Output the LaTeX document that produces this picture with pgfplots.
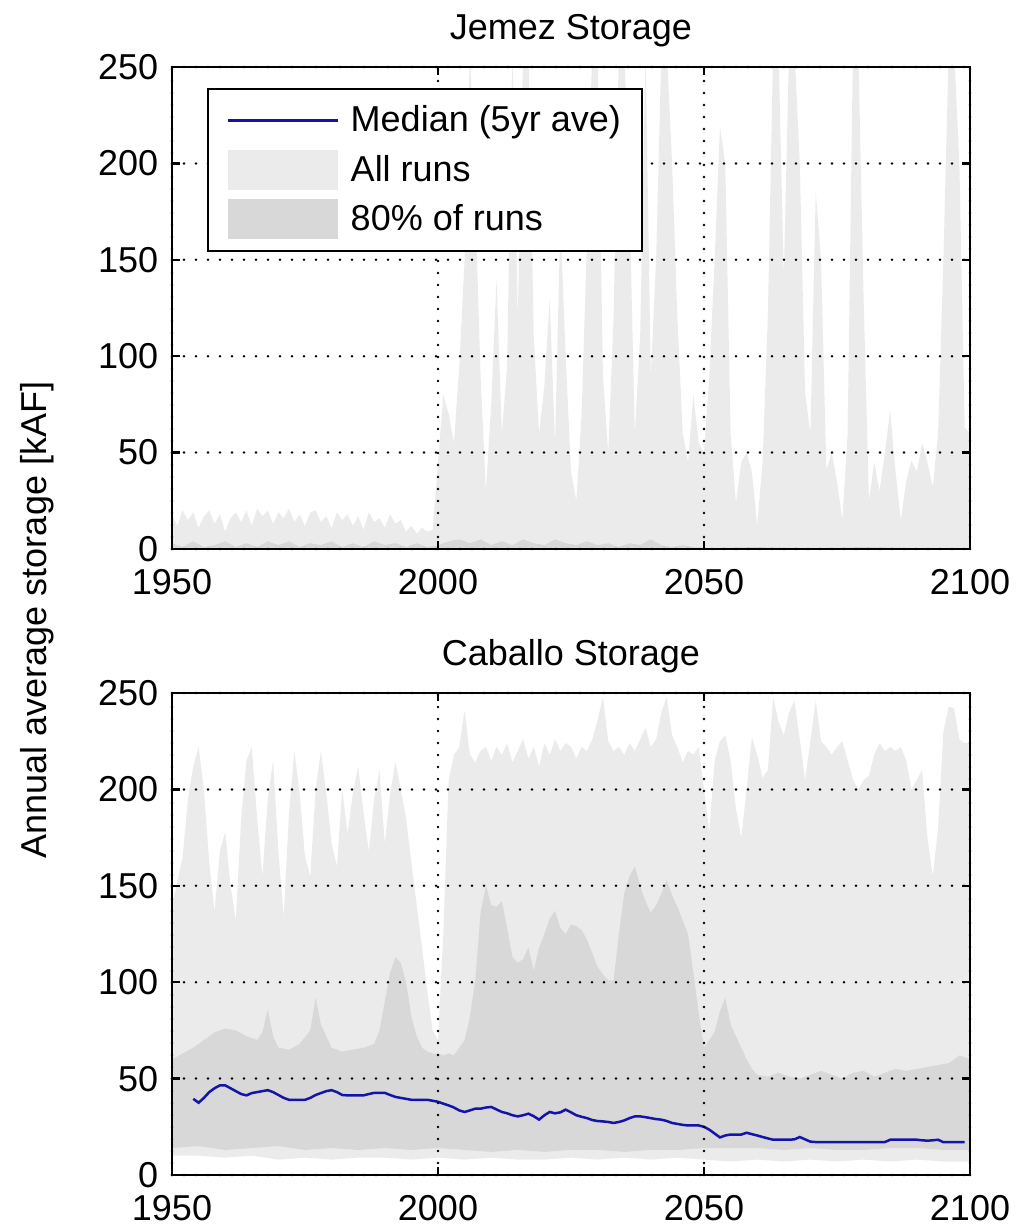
\documentclass[border=0pt]{standalone}
\usepackage{fontspec}
\setmainfont{Liberation Sans}
\usepackage{pgfplots}
\pgfplotsset{compat=1.18}
\usepgfplotslibrary{fillbetween}

\definecolor{allruns}{RGB}{235,235,235}
\definecolor{pctband}{RGB}{216,216,216}
\definecolor{medblue}{RGB}{20,20,170}

\newcommand{\lab}{\fontsize{14.4}{17}\selectfont}

\pgfplotsset{
  stor/.style={
    scale only axis, width=319.2pt, height=192.8pt,
    xmin=1950, xmax=2100, ymin=0, ymax=250,
    xtick={1950,2000,2050,2100}, ytick={0,50,100,150,200,250},
    grid=major,
    grid style={black, line width=1.1pt, line cap=round, dash pattern=on 0pt off 4.8pt},
    axis on top,
    tick align=inside, major tick length=3.2pt,
    axis line style={line width=0.9pt},
    every tick/.style={black, line width=0.9pt},
    /pgf/number format/assume math mode=true,
    /pgf/number format/1000 sep={},
    tick label style={font=\lab},
    title style={font=\lab, yshift=-1.5pt},
    xticklabel style={inner xsep=0pt, yshift=-4.5pt},
    yticklabel style={xshift=-2pt},
  }
}

\begin{document}
\begin{tikzpicture}

% Jemez
\begin{axis}[stor, at={(0pt,0pt)}, anchor=south west, title={Jemez Storage},
  legend style={at={(axis description cs:0.044,0.956)}, anchor=north west,
    draw=black, line width=0.9pt, fill=white, font=\lab,
    inner xsep=6.5pt, inner ysep=4.5pt, row sep=3.8pt,
    cells={anchor=west}},
  legend cell align=left]
\addlegendimage{legend image code/.code={\path[draw=none] (-1.5pt,0pt) -- (47pt,0pt); \draw[draw=medblue, line width=0.9pt] (0pt,0pt) -- (44pt,0pt);}}
\addlegendimage{legend image code/.code={\path[draw=none] (-1.5pt,0pt) -- (47pt,0pt); \fill[fill=allruns, draw=none] (0pt,-8pt) rectangle (44pt,8pt);}}
\addlegendimage{legend image code/.code={\path[draw=none] (-1.5pt,0pt) -- (47pt,0pt); \fill[fill=pctband, draw=none] (0pt,-8pt) rectangle (44pt,8pt);}}

\addplot[fill=allruns, draw=none, forget plot] coordinates {
(1950,18) (1951,12) (1952,20) (1953,15) (1954,19) (1955,11) (1956,17) (1957,20) (1958,13) (1959,18)
(1960,9) (1961,16) (1962,19) (1963,14) (1964,20) (1965,12) (1966,21) (1967,17) (1968,20) (1969,13)
(1970,19) (1971,16) (1972,21) (1973,14) (1974,18) (1975,12) (1976,19) (1977,20) (1978,14) (1979,17)
(1980,11) (1981,19) (1982,15) (1983,18) (1984,12) (1985,17) (1986,10) (1987,19) (1988,14) (1989,16)
(1990,11) (1991,18) (1992,13) (1993,15) (1994,9) (1995,12) (1996,8) (1997,11) (1998,9) (1999,10)
(2000,45) (2001,80) (2002,70) (2003,55) (2004,95) (2005,150) (2006,260) (2007,180) (2008,90) (2009,30)
(2010,75) (2011,140) (2012,60) (2013,95) (2014,260) (2015,120) (2016,260) (2017,260) (2018,110) (2019,60)
(2020,85) (2021,130) (2022,55) (2023,170) (2024,100) (2025,40) (2026,25) (2027,70) (2028,160) (2029,260)
(2030,260) (2031,90) (2032,50) (2033,120) (2034,260) (2035,260) (2036,180) (2037,60) (2038,110) (2039,260)
(2040,90) (2041,150) (2042,260) (2043,260) (2044,200) (2045,120) (2046,60) (2047,45) (2048,80) (2049,55)
(2050,50) (2051,90) (2052,150) (2053,219) (2054,200) (2055,60) (2056,24) (2057,45) (2058,50) (2059,40)
(2060,12) (2061,45) (2062,120) (2063,260) (2064,260) (2065,141) (2066,260) (2067,260) (2068,200) (2069,81)
(2070,60) (2071,185) (2072,150) (2073,41) (2074,50) (2075,35) (2076,15) (2077,60) (2078,260) (2079,260)
(2080,130) (2081,25) (2082,45) (2083,30) (2084,50) (2085,72) (2086,40) (2087,15) (2088,35) (2089,46)
(2090,40) (2091,55) (2092,45) (2093,32) (2094,60) (2095,150) (2096,260) (2097,260) (2098,200) (2099,63)
(2100,60)
} \closedcycle;

\addplot[fill=pctband, draw=none, forget plot] coordinates {
(1950,3) (1952,1) (1954,4) (1956,1) (1958,2) (1960,4) (1962,1) (1964,3) (1966,1) (1968,4)
(1970,2) (1972,4) (1974,1) (1976,3) (1978,2) (1980,4) (1982,1) (1984,3) (1986,1) (1988,4)
(1990,2) (1992,3) (1994,1) (1996,3) (1998,1) (2000,2) (2002,4) (2004,5) (2006,3) (2008,5)
(2010,2) (2012,4) (2014,2) (2016,5) (2018,3) (2020,2) (2022,5) (2024,3) (2026,2) (2028,4)
(2030,2) (2032,3) (2034,1) (2036,3) (2038,2) (2040,5) (2042,2) (2044,1) (2046,2) (2048,1)
(2050,0.5) (2060,1) (2070,0.5) (2080,1) (2090,0.5) (2100,0.5)
} \closedcycle;

\legend{Median (5yr ave), All runs, 80\% of runs}
\end{axis}

% Caballo
\begin{axis}[stor, at={(0pt,-250.4pt)}, anchor=south west, title={Caballo Storage}]
\addplot[name path=allhi, draw=none, forget plot] coordinates {
(1950,140) (1951,152) (1952,165) (1953,195) (1954,212) (1955,222) (1956,200) (1957,162) (1958,137) (1959,168)
(1960,178) (1961,150) (1962,132) (1963,185) (1964,215) (1965,222) (1966,185) (1967,155) (1968,195) (1969,215)
(1970,168) (1971,134) (1972,188) (1973,220) (1974,198) (1975,165) (1976,155) (1977,200) (1978,220) (1979,198)
(1980,172) (1981,160) (1982,200) (1983,177) (1984,198) (1985,212) (1986,188) (1987,168) (1988,195) (1989,210)
(1990,172) (1991,198) (1992,214) (1993,200) (1994,185) (1995,162) (1996,140) (1997,118) (1998,95) (1999,75)
(2000,70) (2001,125) (2002,205) (2003,218) (2004,222) (2005,241) (2006,218) (2007,214) (2008,220) (2009,222)
(2010,215) (2011,222) (2012,218) (2013,224) (2014,214) (2015,220) (2016,226) (2017,216) (2018,222) (2019,212)
(2020,224) (2021,218) (2022,226) (2023,220) (2024,224) (2025,222) (2026,216) (2027,222) (2028,220) (2029,226)
(2030,236) (2031,248) (2032,225) (2033,220) (2034,222) (2035,218) (2036,224) (2037,220) (2038,226) (2039,232)
(2040,222) (2041,226) (2042,240) (2043,248) (2044,228) (2045,222) (2046,214) (2047,220) (2048,218) (2049,222)
(2050,200) (2051,178) (2052,215) (2053,225) (2054,228) (2055,215) (2056,190) (2057,175) (2058,200) (2059,227)
(2060,218) (2061,206) (2062,210) (2063,248) (2064,235) (2065,228) (2066,240) (2067,246) (2068,226) (2069,205)
(2070,225) (2071,246) (2072,225) (2073,222) (2074,218) (2075,222) (2076,225) (2077,215) (2078,205) (2079,200)
(2080,205) (2081,207) (2082,218) (2083,224) (2084,220) (2085,222) (2086,220) (2087,222) (2088,215) (2089,200)
(2090,205) (2091,210) (2092,175) (2093,155) (2094,180) (2095,230) (2096,243) (2097,242) (2098,226) (2099,224)
(2100,224)
};
\addplot[name path=alllo, draw=none, forget plot] coordinates {
(1950,10) (1955,10) (1960,9) (1965,10) (1970,8) (1975,9) (1980,8) (1985,9) (1990,9) (1995,8)
(2000,9) (2005,8) (2010,9) (2015,8) (2020,8) (2025,9) (2030,8) (2035,9) (2040,8) (2045,9)
(2050,8) (2055,7) (2060,8) (2065,7) (2070,8) (2075,7) (2080,8) (2085,7) (2090,8) (2095,7) (2100,7)
};
\addplot[name path=pcthi, draw=none, forget plot] coordinates {
(1950,60) (1952,63) (1954,66) (1956,70) (1958,74) (1960,76) (1962,75) (1964,72) (1966,70) (1967,74)
(1968,86) (1969,72) (1970,66) (1972,65) (1974,68) (1976,75) (1977,92) (1978,78) (1980,66) (1982,64)
(1984,65) (1986,66) (1988,68) (1989,75) (1990,90) (1991,105) (1992,113) (1993,110) (1994,100) (1995,82)
(1996,72) (1997,66) (1998,64) (1999,63) (2000,63) (2001,62) (2002,63) (2003,62) (2004,66) (2005,70)
(2006,82) (2007,101) (2008,136) (2009,150) (2010,140) (2011,139) (2012,142) (2013,128) (2014,113) (2015,110)
(2016,112) (2017,118) (2018,106) (2019,118) (2020,125) (2021,133) (2022,137) (2023,128) (2024,125) (2025,130)
(2026,129) (2027,127) (2028,122) (2029,115) (2030,108) (2031,104) (2032,101) (2033,101) (2034,125) (2035,146)
(2036,155) (2037,160) (2038,150) (2039,142) (2040,136) (2041,140) (2042,146) (2043,153) (2044,145) (2045,139)
(2046,132) (2047,125) (2048,105) (2049,84) (2050,66) (2051,70) (2052,74) (2053,85) (2054,92) (2055,78)
(2056,72) (2057,66) (2058,60) (2059,55) (2060,52) (2062,51) (2064,53) (2066,51) (2068,50) (2070,52)
(2072,54) (2074,52) (2076,50) (2078,53) (2080,54) (2082,51) (2084,53) (2086,55) (2088,54) (2090,55)
(2092,56) (2094,57) (2096,58) (2098,62) (2100,60)
};
\addplot[name path=pctlo, draw=none, forget plot] coordinates {
(1950,14) (1955,15) (1960,13) (1965,14) (1970,15) (1975,13) (1980,14) (1985,13) (1990,14) (1995,13)
(2000,14) (2005,13) (2010,12) (2015,13) (2020,12) (2025,13) (2030,13) (2035,12) (2040,13) (2045,13)
(2050,14) (2055,14) (2060,14) (2065,13) (2070,14) (2075,13) (2080,13) (2085,14) (2090,14) (2095,13) (2100,13)
};
\addplot[fill=allruns, draw=none, forget plot] fill between[of=allhi and alllo];
\addplot[fill=pctband, draw=none, forget plot] fill between[of=pcthi and pctlo];

\addplot[medblue, line width=1pt, forget plot] coordinates {
(1954,39.5) (1955,37.5) (1956,40) (1957,43) (1958,45) (1959,46.5) (1960,46.5) (1961,45) (1962,43.5) (1963,42)
(1964,41.3) (1965,42.5) (1966,43) (1967,43.5) (1968,44) (1969,43) (1970,41.5) (1971,40) (1972,39) (1973,39)
(1974,39) (1975,39) (1976,40) (1977,41.5) (1978,42.5) (1979,43.5) (1980,44) (1981,43) (1982,41.5) (1983,41.3)
(1984,41.3) (1985,41.3) (1986,41.3) (1987,42) (1988,42.6) (1989,42.6) (1990,42.6) (1991,41.5) (1992,40.5) (1993,40)
(1994,39.5) (1995,39) (1996,39) (1997,39) (1998,39) (1999,38.5) (2000,38) (2001,37) (2002,36.1) (2003,35)
(2004,33.5) (2005,32.7) (2006,33.5) (2007,34.4) (2008,34.4) (2009,35) (2010,35.3) (2011,34) (2012,32.7) (2013,32)
(2014,31) (2015,30.4) (2016,31) (2017,31.8) (2018,30.5) (2019,28.7) (2020,31) (2021,32.7) (2022,32) (2023,32.5)
(2024,33.9) (2025,32.5) (2026,31) (2027,30.2) (2028,29.5) (2029,28.5) (2030,28) (2031,27.8) (2032,27.5) (2033,27)
(2034,27.5) (2035,28.3) (2036,29.5) (2037,30.4) (2038,30.4) (2039,30) (2040,29.5) (2041,29) (2042,28.7) (2043,28)
(2044,27) (2045,26.5) (2046,26) (2047,25.7) (2048,25.7) (2049,25.7) (2050,25) (2051,23.5) (2052,21.5) (2053,19.5)
(2054,20.5) (2055,21) (2056,21) (2057,21) (2058,21.9) (2059,21.2) (2060,20.5) (2061,19.7) (2062,19) (2063,18.3)
(2064,18.3) (2065,18.3) (2066,18.3) (2067,18.5) (2068,19.7) (2069,18.5) (2070,17.3) (2071,17.1) (2075,17.1) (2080,17.1)
(2084,17.1) (2085,18.3) (2090,18.3) (2091,18) (2092,17.8) (2093,18) (2094,18.3) (2095,17) (2099,17)
};
\end{axis}

\node[rotate=90, font=\lab] at (-54pt,-28.4pt) {Annual average storage [kAF]};
\path (-68.8pt,-272.4pt) rectangle (338.4pt,219.6pt);
\end{tikzpicture}
\end{document}
